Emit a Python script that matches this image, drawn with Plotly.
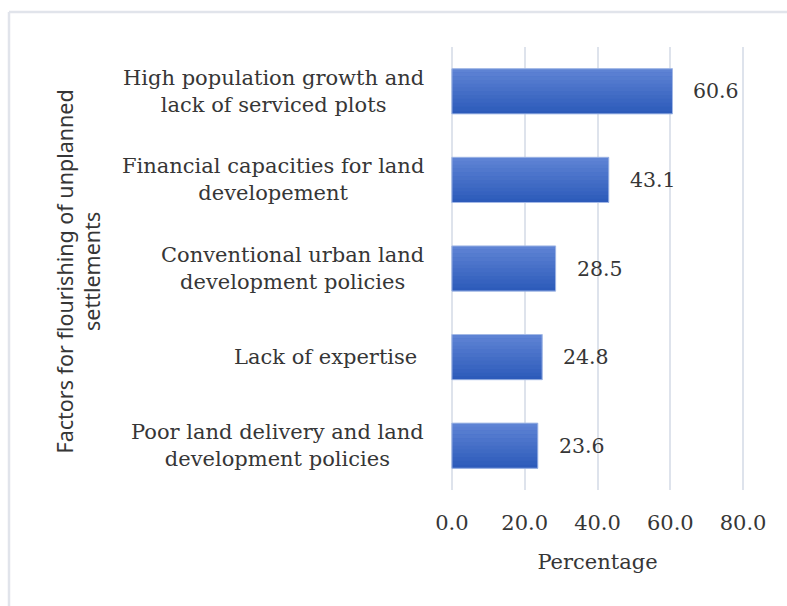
import plotly.graph_objects as go

categories = [
    "High population growth and<br>lack of serviced plots",
    "Financial capacities for land<br>developement",
    "Conventional urban land<br>development policies",
    "Lack of expertise ",
    "Poor land delivery and land<br>development policies",
]
values = [60.6, 43.1, 28.5, 24.8, 23.6]
tick_vals = [0, 20, 40, 60, 80]
tick_text = ["0.0", "20.0", "40.0", "60.0", "80.0"]
x_title = "Percentage"
y_title = "Factors for flourishing of unplanned<br>settlements"

SERIF = "DejaVu Serif"
SANS = "Noto Sans"
TXT = "#363636"

W, H = 787, 606
ML, MR, MT, MB = 449, 41, 47, 116
plot_w = W - ML - MR
plot_h = H - MT - MB
AX0 = 451.5  # pixel of x=0 in reference

fig = go.Figure()

bar_w = 0.51
top_rgb = (94, 131, 212)
bot_rgb = (45, 91, 186)
N = 12
fig.add_trace(go.Bar(
    x=values, y=categories, orientation="h", width=bar_w,
    marker=dict(color="rgb(68,110,200)", line=dict(width=0)),
    hoverinfo="skip", showlegend=False,
))
sw = bar_w / N
for k in range(N):
    t = k / (N - 1)
    c = tuple(round(top_rgb[i] + (bot_rgb[i] - top_rgb[i]) * t) for i in range(3))
    fig.add_trace(go.Bar(
        x=values, y=categories, orientation="h",
        width=sw * 1.05, offset=-bar_w / 2 + k * sw,
        marker=dict(color="rgb(%d,%d,%d)" % c, line=dict(width=0)),
        hoverinfo="skip", showlegend=False,
    ))
fig.add_trace(go.Bar(
    x=values, y=categories, orientation="h", width=bar_w,
    marker=dict(color="rgba(0,0,0,0)", line=dict(color="#A3B9E6", width=1)),
    showlegend=False,
))

annotations = []
for cat, v in zip(categories, values):
    annotations.append(dict(
        x=v, y=cat, xref="x", yref="y", text="%.1f" % v,
        xanchor="left", yanchor="middle", xshift=19, showarrow=False,
        font=dict(family=SERIF, size=20.5, color=TXT),
    ))
    annotations.append(dict(
        x=0, y=cat, xref="x", yref="y", text=cat,
        xanchor="right", yanchor="middle", xshift=-26, showarrow=False,
        align="center",
        font=dict(family=SERIF, size=21, color=TXT),
    ))

annotations.append(dict(
    x=0, y=0.5, xref="paper", yref="paper", text=y_title,
    xanchor="center", yanchor="middle", xshift=-(ML - 78), yshift=-3,
    showarrow=False, textangle=-90, align="center",
    font=dict(family=SANS, size=21.5, color=TXT),
))

fig.update_layout(
    width=W, height=H,
    margin=dict(l=ML, r=MR, t=MT, b=MB),
    paper_bgcolor="white", plot_bgcolor="white",
    barmode="overlay",
    annotations=annotations,
    shapes=[
        dict(type="line", xref="paper", yref="paper",
             x0=(9 - ML) / plot_w, x1=(W + 5 - ML) / plot_w,
             y0=(H - MB - 12) / plot_h, y1=(H - MB - 12) / plot_h,
             line=dict(color="#E1E4EB", width=2.5)),
        dict(type="line", xref="paper", yref="paper",
             x0=(9 - ML) / plot_w, x1=(9 - ML) / plot_w,
             y0=(H - MB - 12) / plot_h, y1=-(MB + 5) / plot_h,
             line=dict(color="#E1E4EB", width=2.5)),
    ],
    xaxis=dict(
        range=[-0.8, 80.8], tickvals=tick_vals, ticktext=tick_text,
        showgrid=True, gridcolor="#DEE3EC", gridwidth=2,
        zeroline=False, showline=False, ticks="",
        tickfont=dict(family=SERIF, size=21, color=TXT),
        ticklabelstandoff=18,
        title=dict(text=x_title, font=dict(family=SERIF, size=21, color=TXT), standoff=20),
    ),
    yaxis=dict(
        categoryorder="array", categoryarray=categories,
        autorange="reversed", showticklabels=False, showgrid=False,
        zeroline=False, showline=False, ticks="",
    ),
)

fig.write_html("out.html")
